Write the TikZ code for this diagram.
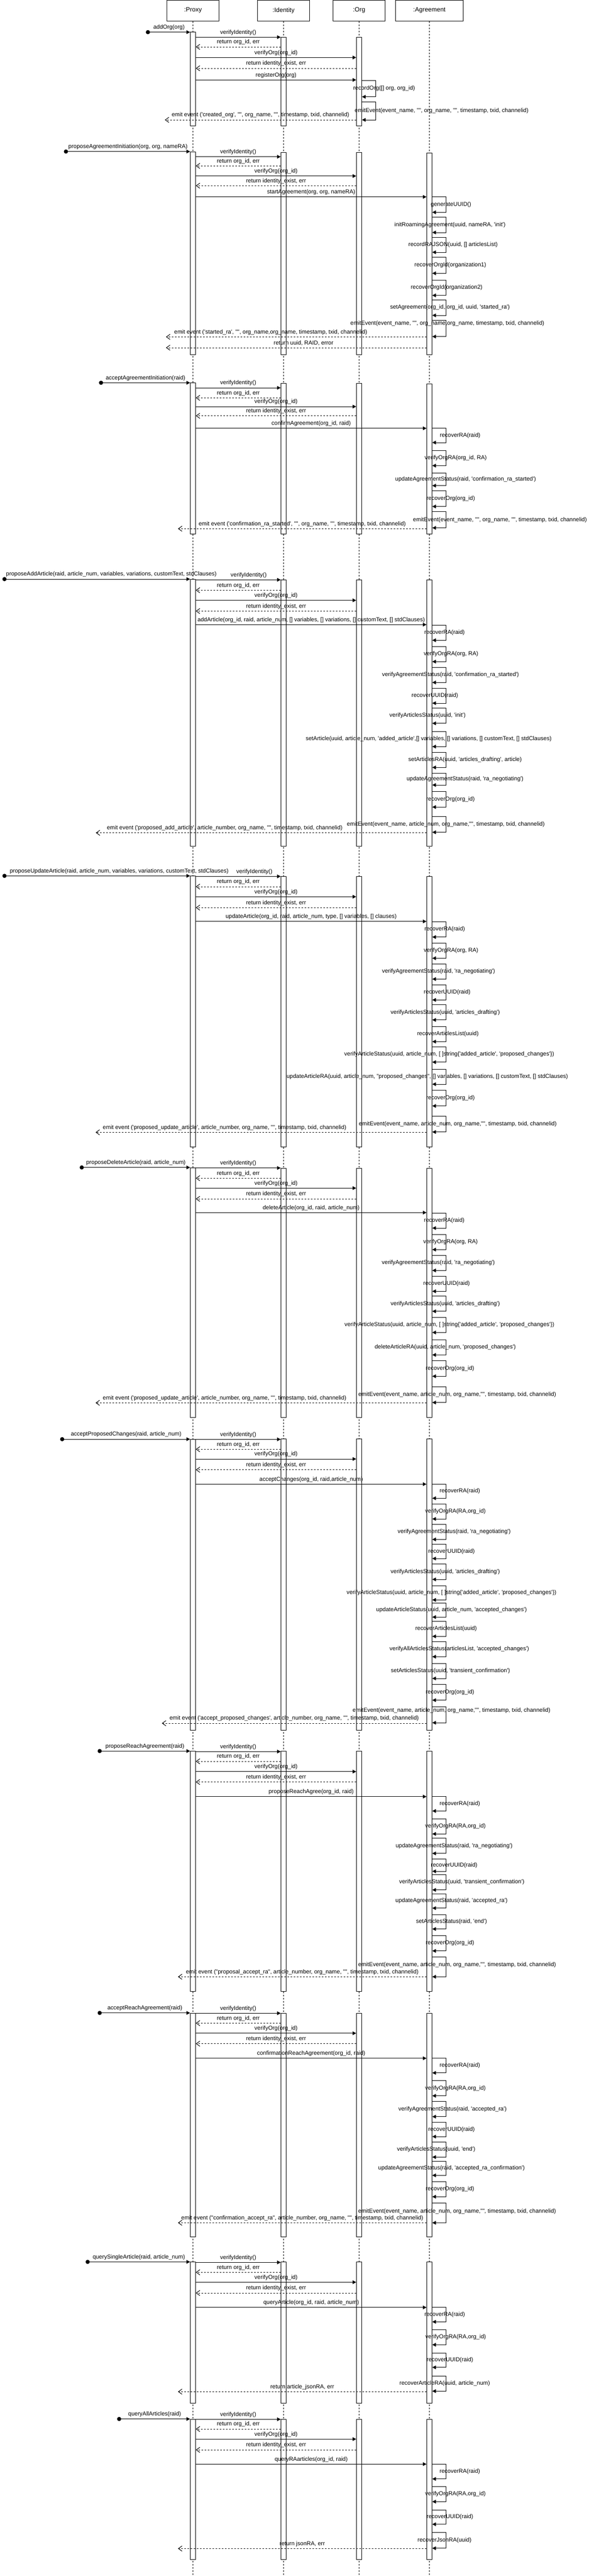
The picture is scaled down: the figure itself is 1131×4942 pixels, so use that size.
\documentclass[tikz,border=0pt]{standalone}
\usepackage{fontspec}
\setmainfont{Liberation Sans}[Ligatures=TeXOff]
\usetikzlibrary{arrows.meta}
\newcommand{\lblfont}{\fontsize{11}{13}\selectfont}
\tikzset{
  lifehead/.style={rectangle, draw=black, line width=1pt, fill=white, minimum width=100pt, minimum height=40pt, font=\fontsize{12}{14}\selectfont},
  lifeline/.style={draw=black, line width=1pt, dash pattern=on 3pt off 3pt},
  actbar/.style={rectangle, draw=black, line width=1pt, fill=white, minimum width=10pt, inner sep=0pt, anchor=north},
  founddot/.style={circle, fill=black, inner sep=0pt, minimum size=8pt},
  msgline/.style={line width=1pt, -{Triangle[length=7pt,width=7pt]}},
  retline/.style={line width=1pt, dash pattern=on 3pt off 3pt, -{Straight Barb[length=7pt,width=10pt]}},
  msglbl/.style={font=\lblfont, inner sep=0pt, yshift=9pt},
  selflbl/.style={font=\lblfont, inner sep=0pt}
}
\newcounter{lbl}
% activation bar: name, lifeline, top, bottom
\newcommand{\actbar}[4]{\node[actbar, minimum height=#4-#3] (#1) at (#2 |- 0,#3) {};}
% found message: [label opts], bar, x, y, label
\newcommand{\foundmsg}[5][]{\stepcounter{lbl}%
  \node[founddot] (s\arabic{lbl}) at (#3,#4) {};
  \draw[msgline] (s\arabic{lbl}.center) -- node[msglbl,#1] (t\arabic{lbl}) {#5} (#2.west |- 0,#4);}
% call: [label opts], from bar, to bar, y, label
\newcommand{\callmsg}[5][]{\stepcounter{lbl}%
  \draw[msgline] (#2.east |- 0,#4) -- node[msglbl,#1] (t\arabic{lbl}) {#5} (#3.west |- 0,#4);}
% return: [label opts], from bar, to bar, y, label
\newcommand{\retmsg}[5][]{\stepcounter{lbl}%
  \draw[retline] (#2.west |- 0,#4) -- node[msglbl,#1] (t\arabic{lbl}) {#5} (#3.east |- 0,#4);}
% event back to the caller: [label opts], from bar, end x, y, label
\newcommand{\emitmsg}[5][]{\stepcounter{lbl}%
  \coordinate (e\arabic{lbl}) at (#3,#4);
  \draw[retline] (#2.west |- 0,#4) -- node[msglbl,#1] (t\arabic{lbl}) {#5} (e\arabic{lbl});}
% self call: [label opts], bar, top, bottom, label, label x
\newcommand{\selfmsg}[6][]{\stepcounter{lbl}%
  \draw[msgline] (#2.east |- 0,#3) -- ++(26,0) |- (#2.east |- 0,#4);
  \node[selflbl,#1] (t\arabic{lbl}) at (#6,{(#3+#4)/2}) {#5};}

\begin{document}
\begin{tikzpicture}[x=1pt, y=-1pt]
\path[fill=white, use as bounding box] (0,0) rectangle (1131,4942);

% lifelines
\node[lifehead] (proxy) at (370.5,20) {:Proxy};
\node[lifehead] (identity) at (544.5,20) {:Identity};
\node[lifehead] (org) at (689.5,20) {:Org};
\node[lifehead, minimum width=130pt] (agreement) at (824.5,20) {:Agreement};
\coordinate (bottom) at (0,4942);
\foreach \n in {proxy,identity,org,agreement}
  \draw[lifeline] (\n) -- (\n |- bottom);

% addOrg
\actbar{P1}{proxy}{61}{241}
\actbar{I1}{identity}{71}{241}
\actbar{O1}{org}{71}{241}
\foundmsg{P1}{284}{61.7}{addOrg(org)}
\callmsg{P1}{I1}{71.3}{verifyIdentity()}
\retmsg{I1}{P1}{90}{return org\_id, err}
\callmsg{P1}{O1}{110.3}{verifyOrg(org\_id)}
\retmsg{O1}{P1}{131}{return identity\_exist, err}
\callmsg{P1}{O1}{153.3}{registerOrg(org)}
\selfmsg{O1}{154.3}{185.7}{recordOrg([] org, org\_id)}{737.6}
\selfmsg{O1}{195}{230}{emitEvent(event\_name, "", org\_name, "", timestamp, txid, channelid)}{848}
\emitmsg{O1}{316.5}{230}{emit event ('created\_org', "", org\_name, "", timestamp, txid, channelid)}

% proposeAgreementInitiation
\actbar{P2}{proxy}{290.7}{680}
\actbar{I2}{identity}{291.7}{680}
\actbar{O2}{org}{291.7}{680}
\actbar{A2}{agreement}{293.3}{680}
\foundmsg{P2}{126.6}{290.7}{proposeAgreementInitiation(org, org, nameRA)}
\callmsg{P2}{I2}{300.7}{verifyIdentity()}
\retmsg{I2}{P2}{318.3}{return org\_id, err}
\callmsg{P2}{O2}{337.7}{verifyOrg(org\_id)}
\retmsg{O2}{P2}{356.3}{return identity\_exist, err}
\callmsg{P2}{A2}{377.7}{startAgreement(org, org, nameRA)}
\selfmsg{A2}{377.7}{407.3}{generateUUID()}{866}
\selfmsg{A2}{416.7}{446}{initRoamingAgreement(uuid, nameRA, 'init')}{864}
\selfmsg{A2}{455.3}{484}{recordRAJSON(uuid, [] articlesList)}{870}
\selfmsg{A2}{493.3}{524.3}{recoverOrgId(organization1)}{864.7}
\selfmsg{A2}{537.3}{566.7}{recoverOrgId(organization2)}{857.6}
\selfmsg{A2}{575}{605}{setAgreement(org\_id, org\_id, uuid, 'started\_ra')}{864}
\selfmsg[yshift=9pt]{A2}{614.3}{645.7}{emitEvent(event\_name, "", org\_name,org\_name, timestamp, txid, channelid)}{859}
\emitmsg[xshift=-49pt]{A2}{318.7}{646.3}{emit event ('started\_ra', "", org\_name,org\_name, timestamp, txid, channelid)}
\emitmsg[xshift=14pt]{A2}{318.7}{667}{return uuid, RAID, error}

% acceptAgreementInitiation
\actbar{P3}{proxy}{734.3}{1024.3}
\actbar{I3}{identity}{735.3}{1024.3}
\actbar{O3}{org}{735.3}{1024.3}
\actbar{A3}{agreement}{736.3}{1024.3}
\foundmsg{P3}{194}{734.3}{acceptAgreementInitiation(raid)}
\callmsg{P3}{I3}{744}{verifyIdentity()}
\retmsg{I3}{P3}{763.3}{return org\_id, err}
\callmsg{P3}{O3}{780}{verifyOrg(org\_id)}
\retmsg{O3}{P3}{797.7}{return identity\_exist, err}
\callmsg{P3}{A3}{821.7}{confirmAgreement(org\_id, raid)}
\selfmsg{A3}{821.7}{849}{recoverRA(raid)}{883.5}
\selfmsg{A3}{864.3}{893.3}{verifyOrgRA(org\_id, RA)}{875}
\selfmsg{A3}{907.7}{931.7}{updateAgreementStatus(raid, 'confirmation\_ra\_started')}{894}
\selfmsg{A3}{941.7}{971.7}{recoverOrg(org\_id)}{865.5}
\selfmsg{A3}{981.7}{1012.7}{emitEvent(event\_name, "", org\_name, "", timestamp, txid, channelid)}{960}
\emitmsg{A3}{341.7}{1014.3}{emit event ('confirmation\_ra\_started', "", org\_name, "", timestamp, txid, channelid)}

% proposeAddArticle
\actbar{P4}{proxy}{1111}{1623.3}
\actbar{I4}{identity}{1112.3}{1623.3}
\actbar{O4}{org}{1112.3}{1623.3}
\actbar{A4}{agreement}{1112.3}{1623.3}
\foundmsg[xshift=27pt]{P4}{8.6}{1111}{proposeAddArticle(raid, article\_num, variables, variations, customText, stdClauses)}
\callmsg[xshift=20pt]{P4}{I4}{1112.3}{verifyIdentity()}
\retmsg{I4}{P4}{1132.3}{return org\_id, err}
\callmsg{P4}{O4}{1151.7}{verifyOrg(org\_id)}
\retmsg{O4}{P4}{1172.3}{return identity\_exist, err}
\callmsg{P4}{A4}{1198.3}{addArticle(org\_id, raid, article\_num, [] variables, [] variations, [] customText, [] stdClauses)}
\selfmsg{A4}{1199}{1228.3}{recoverRA(raid)}{853.6}
\selfmsg{A4}{1240}{1269.3}{verifyOrgRA(org, RA)}{866}
\selfmsg{A4}{1280}{1309.3}{verifyAgreementStatus(raid, 'confirmation\_ra\_started')}{865}
\selfmsg{A4}{1320}{1349}{recoverUUID(raid)}{835}
\selfmsg{A4}{1358.3}{1387.7}{verifyArticlesStatus(uuid, 'init')}{821}
\selfmsg{A4}{1403.3}{1432.3}{setArticle(uuid, article\_num, 'added\_article',[] variables, [] variations, [] customText, [] stdClauses)}{823}
\selfmsg{A4}{1443.3}{1472.3}{setArticlesRA(uuid, 'articles\_drafting', article)}{893}
\selfmsg{A4}{1483.3}{1506}{updateAgreementStatus(raid, 'ra\_negotiating')}{893}
\selfmsg{A4}{1518.3}{1548.3}{recoverOrg(org\_id)}{865}
\selfmsg{A4}{1566.7}{1596.7}{emitEvent(event\_name, article\_num, org\_name,"", timestamp, txid, channelid)}{856}
\emitmsg[xshift=-70pt]{A4}{184}{1597.7}{emit event ('proposed\_add\_article', article\_number, org\_name, "", timestamp, txid, channelid)}

% proposeUpdateArticle
\actbar{P5}{proxy}{1680.3}{2200}
\actbar{I5}{identity}{1681.3}{2200}
\actbar{O5}{org}{1681.3}{2200}
\actbar{A5}{agreement}{1681.3}{2200}
\foundmsg[xshift=42pt]{P5}{8.6}{1680.3}{proposeUpdateArticle(raid, article\_num, variables, variations, customText, stdClauses)}
\callmsg[xshift=31pt]{P5}{I5}{1681.3}{verifyIdentity()}
\retmsg{I5}{P5}{1701}{return org\_id, err}
\callmsg{P5}{O5}{1720.3}{verifyOrg(org\_id)}
\retmsg{O5}{P5}{1741.3}{return identity\_exist, err}
\callmsg{P5}{A5}{1767.7}{updateArticle(org\_id, raid, article\_num, type, [] variables, [] clauses)}
\selfmsg{A5}{1768.3}{1797.7}{recoverRA(raid)}{854}
\selfmsg{A5}{1809.3}{1838.3}{verifyOrgRA(org, RA)}{866}
\selfmsg{A5}{1849.3}{1878.3}{verifyAgreementStatus(raid, 'ra\_negotiating')}{842}
\selfmsg{A5}{1889.3}{1918.3}{recoverUUID(raid)}{858.6}
\selfmsg{A5}{1927.7}{1956.7}{verifyArticlesStatus(uuid, 'articles\_drafting')}{855}
\selfmsg{A5}{1969.3}{1998.3}{recoverArticlesList(uuid)}{860}
\selfmsg{A5}{2008.3}{2037.7}{verifyArticleStatus(uuid, article\_num, [ ]string\{'added\_article', 'proposed\_changes'\})}{862.6}
\selfmsg{A5}{2051.7}{2080}{updateArticleRA(uuid, article\_num, "proposed\_changes", [] variables, [] variations, [] customText, [] stdClauses)}{820.5}
\selfmsg{A5}{2091.7}{2121.7}{recoverOrg(org\_id)}{865}
\selfmsg{A5}{2141.7}{2171.7}{emitEvent(event\_name, article\_num, org\_name,"", timestamp, txid, channelid)}{879}
\emitmsg[xshift=-70pt]{A5}{183.5}{2172.3}{emit event ('proposed\_update\_article', article\_number, org\_name, "", timestamp, txid, channelid)}

% proposeDeleteArticle
\actbar{P6}{proxy}{2239.7}{2719.3}
\actbar{I6}{identity}{2240.7}{2719.3}
\actbar{O6}{org}{2240.7}{2719.3}
\actbar{A6}{agreement}{2240.7}{2719.3}
\foundmsg{P6}{157}{2239.7}{proposeDeleteArticle(raid, article\_num)}
\callmsg{P6}{I6}{2240.7}{verifyIdentity()}
\retmsg{I6}{P6}{2260.3}{return org\_id, err}
\callmsg{P6}{O6}{2279.3}{verifyOrg(org\_id)}
\retmsg{O6}{P6}{2300}{return identity\_exist, err}
\callmsg{P6}{A6}{2326.3}{deleteArticle(org\_id, raid, article\_num)}
\selfmsg{A6}{2327.3}{2356}{recoverRA(raid)}{853}
\selfmsg{A6}{2368.3}{2397.3}{verifyOrgRA(org, RA)}{865}
\selfmsg{A6}{2408.3}{2437.3}{verifyAgreementStatus(raid, 'ra\_negotiating')}{841.7}
\selfmsg{A6}{2448.3}{2477.3}{recoverUUID(raid)}{857.5}
\selfmsg{A6}{2486.7}{2515.7}{verifyArticlesStatus(uuid, 'articles\_drafting')}{855}
\selfmsg{A6}{2527.3}{2556.3}{verifyArticleStatus(uuid, article\_num, [ ]string\{'added\_article', 'proposed\_changes'\})}{863}
\selfmsg{A6}{2570.7}{2599.3}{deleteArticleRA(uuid, article\_num, 'proposed\_changes')}{855}
\selfmsg{A6}{2610.7}{2640.3}{recoverOrg(org\_id)}{864}
\selfmsg{A6}{2660.3}{2690.7}{emitEvent(event\_name, article\_num, org\_name,"", timestamp, txid, channelid)}{878}
\emitmsg[xshift=-70pt]{A6}{183.5}{2691.3}{emit event ('proposed\_update\_article', article\_number, org\_name, "", timestamp, txid, channelid)}

% acceptProposedChanges
\actbar{P7}{proxy}{2761}{3319}
\actbar{I7}{identity}{2760.3}{3319}
\actbar{O7}{org}{2760.3}{3319}
\actbar{A7}{agreement}{2760.3}{3319}
\foundmsg{P7}{119.4}{2761}{acceptProposedChanges(raid, article\_num)}
\callmsg{P7}{I7}{2761.3}{verifyIdentity()}
\retmsg{I7}{P7}{2780.3}{return org\_id, err}
\callmsg{P7}{O7}{2799}{verifyOrg(org\_id)}
\retmsg{O7}{P7}{2819.7}{return identity\_exist, err}
\callmsg{P7}{A7}{2847.3}{acceptChanges(org\_id, raid,article\_num)}
\selfmsg{A7}{2847.3}{2874.3}{recoverRA(raid)}{883}
\selfmsg{A7}{2885}{2914}{verifyOrgRA(RA,org\_id)}{874.5}
\selfmsg{A7}{2924}{2953.3}{verifyAgreementStatus(raid, 'ra\_negotiating')}{872}
\selfmsg{A7}{2962.7}{2990}{recoverUUID(raid)}{867}
\selfmsg{A7}{3000.7}{3030}{verifyArticlesStatus(uuid, 'articles\_drafting')}{855}
\selfmsg{A7}{3042.7}{3069.3}{verifyArticleStatus(uuid, article\_num, [ ]string\{'added\_article', 'proposed\_changes'\})}{867}
\selfmsg{A7}{3075.7}{3102.3}{updateArticleStatus(uuid, article\_num, 'accepted\_changes')}{867}
\selfmsg{A7}{3110}{3139.3}{recoverArticlesList(uuid)}{856.5}
\selfmsg{A7}{3149.3}{3178.3}{verifyAllArticlesStatus(articlesList, 'accepted\_changes')}{882}
\selfmsg{A7}{3191}{3220}{setArticlesStatus(uuid, 'transient\_confirmation')}{865}
\selfmsg{A7}{3231.7}{3261.7}{recoverOrg(org\_id)}{864}
\selfmsg[yshift=8pt]{A7}{3274.3}{3305}{emitEvent(event\_name, article\_num, org\_name,"", timestamp, txid, channelid)}{867}
\emitmsg{A7}{310.8}{3306}{emit event ('accept\_proposed\_changes', article\_number, org\_name, "", timestamp, txid, channelid)}

% proposeReachAgreement
\actbar{P8}{proxy}{3359.3}{3820}
\actbar{I8}{identity}{3359.3}{3820}
\actbar{O8}{org}{3359.3}{3820}
\actbar{A8}{agreement}{3359.3}{3820}
\foundmsg{P8}{191.4}{3359.3}{proposeReachAgreement(raid)}
\callmsg{P8}{I8}{3360.3}{verifyIdentity()}
\retmsg{I8}{P8}{3379}{return org\_id, err}
\callmsg{P8}{O8}{3398.7}{verifyOrg(org\_id)}
\retmsg{O8}{P8}{3418.7}{return identity\_exist, err}
\callmsg{P8}{A8}{3446.7}{proposeReachAgree(org\_id, raid)}
\selfmsg{A8}{3446.7}{3474.3}{recoverRA(raid)}{883}
\selfmsg{A8}{3489}{3518.3}{verifyOrgRA(RA,org\_id)}{874.5}
\selfmsg{A8}{3526.7}{3555.7}{updateAgreementStatus(raid, 'ra\_negotiating')}{872}
\selfmsg{A8}{3566.7}{3590}{recoverUUID(raid)}{872}
\selfmsg{A8}{3596}{3625.7}{verifyArticlesStatus(uuid, 'transient\_confirmation')}{886.7}
\selfmsg{A8}{3633.3}{3660.7}{updateAgreementStatus(raid, 'accepted\_ra')}{867}
\selfmsg{A8}{3673.3}{3700.7}{setArticlesStatus(raid, 'end')}{867}
\selfmsg{A8}{3713.3}{3742.7}{recoverOrg(org\_id)}{864}
\selfmsg[yshift=4pt]{A8}{3754}{3792.3}{emitEvent(event\_name, article\_num, org\_name,"", timestamp, txid, channelid)}{877.7}
\emitmsg{A8}{341.7}{3792.3}{emit event ("proposal\_accept\_ra", article\_number, org\_name, "", timestamp, txid, channelid)}

% acceptReachAgreement
\actbar{P9}{proxy}{3861.7}{4291}
\actbar{I9}{identity}{3861.7}{4291}
\actbar{O9}{org}{3861.7}{4291}
\actbar{A9}{agreement}{3861.7}{4291}
\foundmsg{P9}{191.4}{3861.7}{acceptReachAgreement(raid)}
\callmsg{P9}{I9}{3862.3}{verifyIdentity()}
\retmsg{I9}{P9}{3881.3}{return org\_id, err}
\callmsg{P9}{O9}{3900.7}{verifyOrg(org\_id)}
\retmsg{O9}{P9}{3920.7}{return identity\_exist, err}
\callmsg{P9}{A9}{3948.7}{confirmationReachAgreement(org\_id, raid)}
\selfmsg{A9}{3948.7}{3976.7}{recoverRA(raid)}{883}
\selfmsg{A9}{3991.7}{4020.7}{verifyOrgRA(RA,org\_id)}{874.5}
\selfmsg{A9}{4031.7}{4060.7}{verifyAgreementStatus(raid, 'accepted\_ra')}{869}
\selfmsg{A9}{4071.7}{4099}{recoverUUID(raid)}{867}
\selfmsg{A9}{4109.3}{4138.3}{verifyArticlesStatus(uuid, 'end')}{837.4}
\selfmsg{A9}{4146.7}{4173.3}{updateAgreementStatus(raid, 'accepted\_ra\_confirmation')}{867}
\selfmsg{A9}{4185.7}{4214.3}{recoverOrg(org\_id)}{864}
\selfmsg[yshift=3pt]{A9}{4226}{4264.3}{emitEvent(event\_name, article\_num, org\_name,"", timestamp, txid, channelid)}{877.7}
\emitmsg{A9}{341.7}{4264.3}{emit event ("confirmation\_accept\_ra", article\_number, org\_name, "", timestamp, txid, channelid)}

% querySingleArticle
\actbar{P10}{proxy}{4339.3}{4610}
\actbar{I10}{identity}{4339.3}{4610}
\actbar{O10}{org}{4339.3}{4610}
\actbar{A10}{agreement}{4339.3}{4610}
\foundmsg{P10}{168.3}{4339.3}{querySingleArticle(raid, article\_num)}
\callmsg{P10}{I10}{4340.3}{verifyIdentity()}
\retmsg{I10}{P10}{4359.3}{return org\_id, err}
\callmsg{P10}{O10}{4378.3}{verifyOrg(org\_id)}
\retmsg{O10}{P10}{4399}{return identity\_exist, err}
\callmsg{P10}{A10}{4426.7}{queryArticle(org\_id, raid, article\_num)}
\selfmsg{A10}{4426.7}{4454.3}{recoverRA(raid)}{854}
\selfmsg{A10}{4469}{4498.3}{verifyOrgRA(RA,org\_id)}{875}
\selfmsg{A10}{4514.3}{4541.7}{recoverUUID(raid)}{864}
\selfmsg{A10}{4558.3}{4587.3}{recoverArticleRA(uuid, article\_num)}{854}
\emitmsg{A10}{341.7}{4588.3}{return article\_jsonRA, err}

% queryAllArticles
\actbar{P11}{proxy}{4640.7}{4910}
\actbar{I11}{identity}{4640.7}{4910}
\actbar{O11}{org}{4640.7}{4910}
\actbar{A11}{agreement}{4640.7}{4910}
\foundmsg{P11}{228.8}{4640.7}{queryAllArticles(raid)}
\callmsg{P11}{I11}{4641.3}{verifyIdentity()}
\retmsg{I11}{P11}{4660}{return org\_id, err}
\callmsg{P11}{O11}{4679.3}{verifyOrg(org\_id)}
\retmsg{O11}{P11}{4700}{return identity\_exist, err}
\callmsg{P11}{A11}{4727.3}{queryRAarticles(org\_id, raid)}
\selfmsg{A11}{4727.3}{4755.7}{recoverRA(raid)}{883}
\selfmsg{A11}{4770.3}{4799.3}{verifyOrgRA(RA,org\_id)}{874.5}
\selfmsg{A11}{4815.3}{4842.7}{recoverUUID(raid)}{864}
\selfmsg{A11}{4858.3}{4888.7}{recoverJsonRA(uuid)}{853.6}
\emitmsg{A11}{341.7}{4889.3}{return jsonRA, err}
\end{tikzpicture}
\end{document}
